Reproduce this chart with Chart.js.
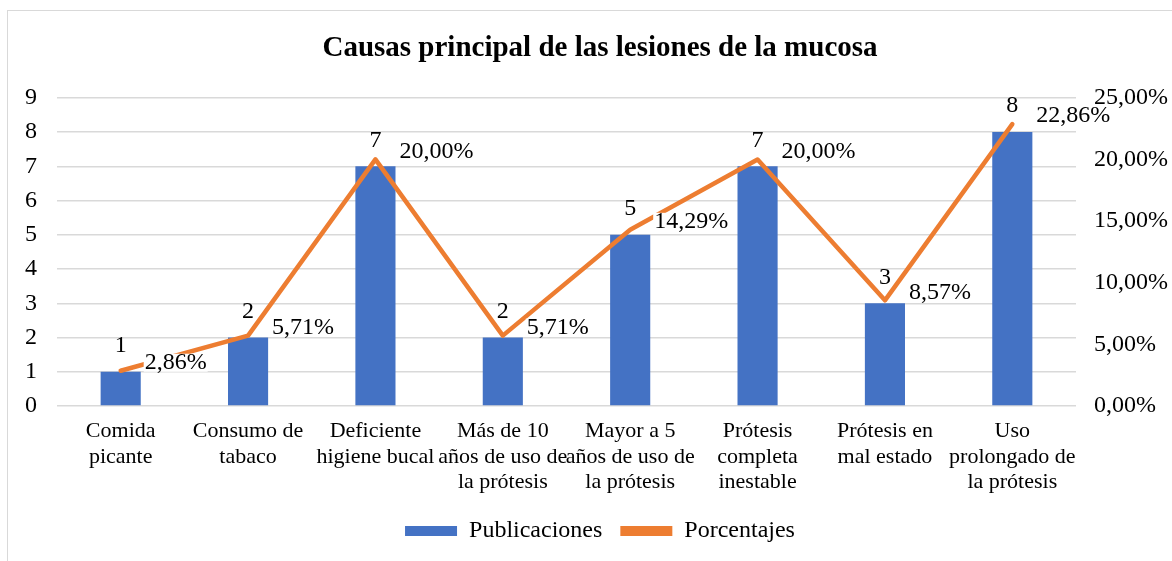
<!DOCTYPE html>
<html>
<head>
<meta charset="utf-8">
<script src="https://cdn.jsdelivr.net/npm/chart.js@4/dist/chart.umd.min.js"></script>
<style>
  html, body { margin:0; padding:0; background:#fff; overflow:hidden; width:1172px; height:561px; }
  #frame { position:absolute; left:7px; top:10px; width:2000px; height:2000px; border:1.5px solid #d9d9d9; }
  #wrap { position:absolute; left:0; top:0; width:1200px; height:561px; }
</style>
</head>
<body>
<div id="frame"></div>
<div id="wrap"><canvas id="chart" width="1200" height="561"></canvas></div>
<script>
// categorias y valores
const categorias = [
  ['Comida', 'picante'],
  ['Consumo de', 'tabaco'],
  ['Deficiente', 'higiene bucal'],
  ['Más de 10', 'años de uso de', 'la prótesis'],
  ['Mayor a 5', 'años de uso de', 'la prótesis'],
  ['Prótesis', 'completa', 'inestable'],
  ['Prótesis en', 'mal estado'],
  ['Uso', 'prolongado de', 'la prótesis']
];
const publicaciones = [1, 2, 7, 2, 5, 7, 3, 8];
const porcentajes = [2.86, 5.71, 20.00, 5.71, 14.29, 20.00, 8.57, 22.86];
const titulo = 'Causas principal de las lesiones de la mucosa';

const AZUL = '#4472C4';
const NARANJA = '#ED7D31';
const GRIS = '#d9d9d9';
const FUENTE = '"Liberation Serif", "Times New Roman", serif';

function fmtPct(v){
  return v.toFixed(2).replace('.', ',') + '%';
}

// etiquetas de datos: numeros sobre las barras (antes de la linea) y % junto a la linea
const etiquetas = {
  id: 'etiquetas',
  afterDatasetDraw(chart, args){
    if(args.index !== 0) return;
    const ctx = chart.ctx;
    ctx.save();
    ctx.font = '24px ' + FUENTE;
    ctx.fillStyle = '#000';
    ctx.textAlign = 'center';
    ctx.textBaseline = 'middle';
    args.meta.data.forEach((el, i) => {
      ctx.fillText(String(publicaciones[i]), el.x, el.y - 26);
    });
    ctx.restore();
  },
  afterDatasetsDraw(chart){
    const meta = chart.getDatasetMeta(1);
    const ctx = chart.ctx;
    ctx.save();
    ctx.font = '24px ' + FUENTE;
    ctx.textAlign = 'left';
    ctx.textBaseline = 'middle';
    meta.data.forEach((pt, i) => {
      const txt = fmtPct(porcentajes[i]);
      const x = pt.x + 24, y = pt.y - 8;
      const w = ctx.measureText(txt).width;
      ctx.fillStyle = '#fff';
      ctx.fillRect(x - 1, y - 9, w + 2, 18);
      ctx.fillStyle = '#000';
      ctx.fillText(txt, x, y);
    });
    ctx.restore();
  }
};

new Chart(document.getElementById('chart'), {
  type: 'bar',
  data: {
    labels: categorias,
    datasets: [
      {
        label: 'Publicaciones',
        data: publicaciones,
        backgroundColor: AZUL,
        borderWidth: 0,
        barPercentage: 0.315,
        categoryPercentage: 1,
        yAxisID: 'y',
        order: 2
      },
      {
        type: 'line',
        label: 'Porcentajes',
        data: porcentajes,
        borderColor: NARANJA,
        backgroundColor: NARANJA,
        borderWidth: 4.5,
        pointRadius: 0,
        tension: 0,
        borderJoinStyle: 'round',
        borderCapStyle: 'round',
        yAxisID: 'y2',
        order: 1
      }
    ]
  },
  options: {
    responsive: false,
    animation: false,
    layout: { padding: { left: 0, right: 0, top: 0, bottom: 8 } },
    plugins: {
      tooltip: { enabled: false },
      title: {
        display: true,
        text: titulo,
        color: '#000',
        font: { family: FUENTE, size: 29, weight: 'bold', lineHeight: 1.2 },
        padding: { top: 31, bottom: 32 }
      },
      legend: {
        position: 'bottom',
        labels: {
          color: '#000',
          font: { family: FUENTE, size: 24 },
          boxWidth: 52,
          boxHeight: 10,
          padding: 18,
          generateLabels(chart){
            return chart.data.datasets.map((ds, i) => ({
              text: ds.label,
              fillStyle: i === 0 ? AZUL : NARANJA,
              strokeStyle: i === 0 ? AZUL : NARANJA,
              lineWidth: 0,
              datasetIndex: i,
              fontColor: '#000'
            }));
          }
        }
      }
    },
    scales: {
      x: {
        grid: { display: false, drawTicks: false },
        border: { display: false },
        ticks: {
          color: '#000',
          font: { family: FUENTE, size: 22, lineHeight: 1.15 },
          padding: 13,
          maxRotation: 0,
          autoSkip: false
        },
        afterFit(scale){ scale.height = 95; }
      },
      y: {
        position: 'left',
        min: 0,
        max: 9,
        grid: { color: GRIS, lineWidth: 1.5, drawTicks: false },
        border: { display: false },
        ticks: {
          stepSize: 1,
          color: '#000',
          font: { family: FUENTE, size: 24 },
          padding: 20
        },
        afterFit(scale){ scale.width = 57; }
      },
      y2: {
        position: 'right',
        min: 0,
        max: 25,
        grid: { display: false, drawTicks: false },
        border: { display: false },
        ticks: {
          stepSize: 5,
          color: '#000',
          font: { family: FUENTE, size: 24 },
          padding: 18,
          callback: v => fmtPct(v)
        },
        afterFit(scale){ scale.width = 124; }
      }
    }
  },
  plugins: [etiquetas]
});
</script>
</body>
</html>
